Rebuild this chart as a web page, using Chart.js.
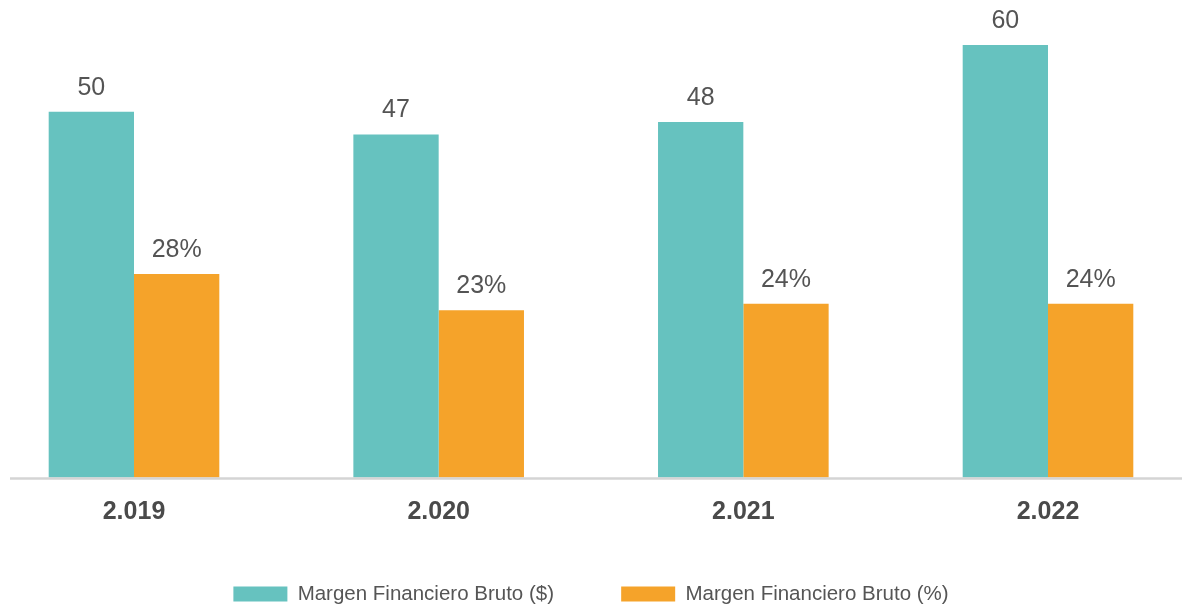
<!DOCTYPE html>
<html>
<head>
<meta charset="utf-8">
<script src="https://cdn.jsdelivr.net/npm/chart.js@4.4.1/dist/chart.umd.min.js"></script>
<style>
    html, body { margin: 0; padding: 0; background: #ffffff; }
    #wrap { width: 1182px; height: 611px; position: relative; }
</style>
</head>
<body>
<div id="wrap"><canvas id="chartMargen"></canvas></div>
<script>
// datos del grafico
var anios = ['2.019', '2.020', '2.021', '2.022'];
var margenPesos = [50.3, 47.2, 48.9, 59.5];
var margenPorc = [28.0, 23.0, 23.9, 23.9];
var etiquetasPesos = ['50', '47', '48', '60'];
var etiquetasPorc = ['28%', '23%', '24%', '24%'];

var fuente = "'Liberation Sans', Arial, sans-serif";

// linea base gris que cruza todo el ancho
var lineaBase = {
    id: 'lineaBase',
    afterDatasetsDraw: function (chart) {
        var ctx = chart.ctx;
        var y = chart.scales.y.getPixelForValue(0) + 1;
        ctx.save();
        ctx.strokeStyle = '#d4d4d4';
        ctx.lineWidth = 2.5;
        ctx.beginPath();
        ctx.moveTo(10, y);
        ctx.lineTo(chart.width, y);
        ctx.stroke();
        ctx.restore();
    }
};

// valores encima de cada barra
var etiquetas = {
    id: 'etiquetas',
    afterDatasetsDraw: function (chart) {
        var ctx = chart.ctx;
        var textos = [etiquetasPesos, etiquetasPorc];
        ctx.save();
        ctx.font = '25px ' + fuente;
        ctx.fillStyle = '#545454';
        ctx.textAlign = 'center';
        ctx.textBaseline = 'middle';
        chart.data.datasets.forEach(function (ds, d) {
            chart.getDatasetMeta(d).data.forEach(function (bar, i) {
                ctx.fillText(textos[d][i], bar.x, bar.y - 24);
            });
        });
        ctx.restore();
    }
};

var ctx = document.getElementById('chartMargen').getContext('2d');
new Chart(ctx, {
    type: 'bar',
    data: {
        labels: anios,
        datasets: [{
                label: 'Margen Financiero Bruto ($)',
                data: margenPesos,
                backgroundColor: '#66c2bf',
                clip: false
            },
            {
                label: 'Margen Financiero Bruto (%)',
                data: margenPorc,
                backgroundColor: '#f5a32a',
                clip: false
            }]
    },
    options: {
        responsive: true,
        maintainAspectRatio: false,
        animation: false,
        categoryPercentage: 0.56,
        barPercentage: 1,
        layout: {
            padding: {top: 5, left: 134, right: 134, bottom: -3.25}
        },
        scales: {
            x: {
                offset: false,
                grid: {display: false, drawTicks: false},
                border: {display: false},
                ticks: {
                    padding: 20,
                    color: '#4a4a4a',
                    font: {family: fuente, size: 25, weight: 'bold'}
                },
                afterFit: function (scale) {
                    scale.height = 73.25;
                }
            },
            y: {
                display: false,
                min: 0,
                max: 65
            }
        },
        plugins: {
            tooltip: {enabled: false},
            legend: {
                position: 'bottom',
                labels: {
                    boxWidth: 54,
                    boxHeight: 15,
                    padding: 33,
                    color: '#555555',
                    font: {family: fuente, size: 20.5},
                    // espacio extra entre los dos elementos
                    generateLabels: function (chart) {
                        var items = Chart.defaults.plugins.legend.labels.generateLabels(chart);
                        items[0].text = items[0].text + '\u00a0\u00a0\u00a0\u00a0\u00a0\u00a0';
                        return items;
                    }
                }
            }
        }
    },
    plugins: [lineaBase, etiquetas]
});
</script>
</body>
</html>
